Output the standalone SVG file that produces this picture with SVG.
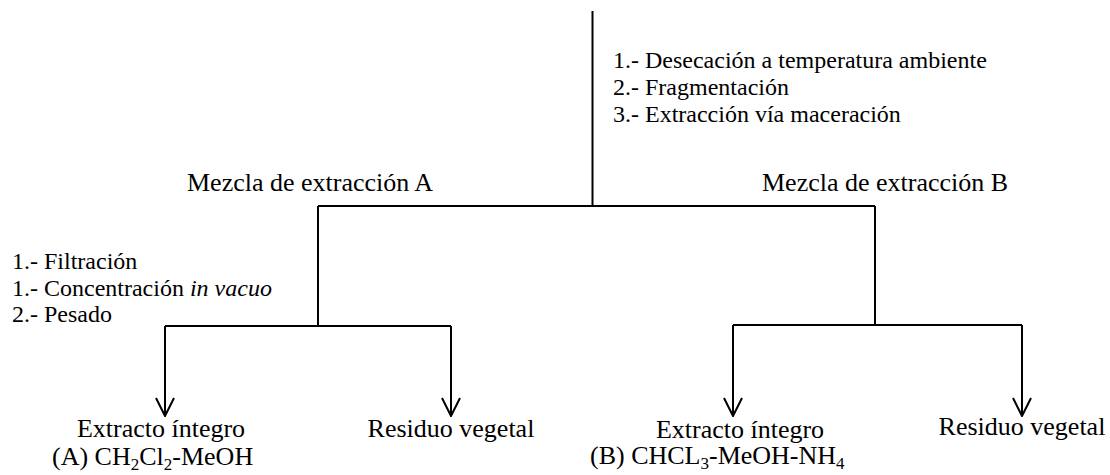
<svg xmlns="http://www.w3.org/2000/svg" width="1110" height="475" viewBox="0 0 1110 475">
<defs>
<style>
text{font-family:"Liberation Serif","Times New Roman","DejaVu Serif",serif;font-size:26px;fill:#000}
.step{font-size:24px}
.ln{stroke:#000;stroke-width:2;fill:none}
.sub{font-size:17px}
</style>
<marker id="arr" viewBox="0 0 20 20" refX="19" refY="10" markerWidth="20" markerHeight="20" markerUnits="userSpaceOnUse" orient="auto">
<path d="M1,1 L19,10 L1,19" fill="none" stroke="#000" stroke-width="2"/>
</marker>
</defs>
<rect width="1110" height="475" fill="#fff"/>
<g id="connectors">
<path class="ln" d="M592.5,11 V206"/>
<path class="ln" d="M318,206 H875"/>
<path class="ln" d="M318,206 V326"/>
<path class="ln" d="M165,326 H451"/>
<path class="ln" d="M165,326 V416" marker-end="url(#arr)"/>
<path class="ln" d="M451,326 V416" marker-end="url(#arr)"/>
<path class="ln" d="M875,206 V325"/>
<path class="ln" d="M733,325 H1022"/>
<path class="ln" d="M733,325 V416" marker-end="url(#arr)"/>
<path class="ln" d="M1022,325 V416" marker-end="url(#arr)"/>
</g>
<g id="steps-top">
<text class="step" x="613" y="68">1.- Desecación a temperatura ambiente</text>
<text class="step" x="613" y="95">2.- Fragmentación</text>
<text class="step" x="613" y="122">3.- Extracción vía maceración</text>
</g>
<g id="mezcla-a"><text x="187" y="191">Mezcla de extracción A</text></g>
<g id="mezcla-b"><text x="762" y="191">Mezcla de extracción B</text></g>
<g id="steps-left">
<text class="step" x="12" y="269">1.- Filtración</text>
<text class="step" x="12" y="296">1.- Concentración <tspan font-style="italic">in vacuo</tspan></text>
<text class="step" x="12" y="322">2.- Pesado</text>
</g>
<g id="extracto-a">
<text x="161" y="437" text-anchor="middle">Extracto íntegro</text>
<text x="52" y="465">(A) CH<tspan class="sub" dy="5">2</tspan><tspan dy="-5">Cl</tspan><tspan class="sub" dy="5">2</tspan><tspan dy="-5">-MeOH</tspan></text>
</g>
<g id="residuo-a"><text x="451" y="437" text-anchor="middle">Residuo vegetal</text></g>
<g id="extracto-b">
<text x="740" y="438" text-anchor="middle">Extracto íntegro</text>
<text x="590" y="464">(B) CHCL<tspan class="sub" dy="5">3</tspan><tspan dy="-5">-MeOH-NH</tspan><tspan class="sub" dy="5">4</tspan></text>
</g>
<g id="residuo-b"><text x="1022" y="435" text-anchor="middle">Residuo vegetal</text></g>
</svg>
